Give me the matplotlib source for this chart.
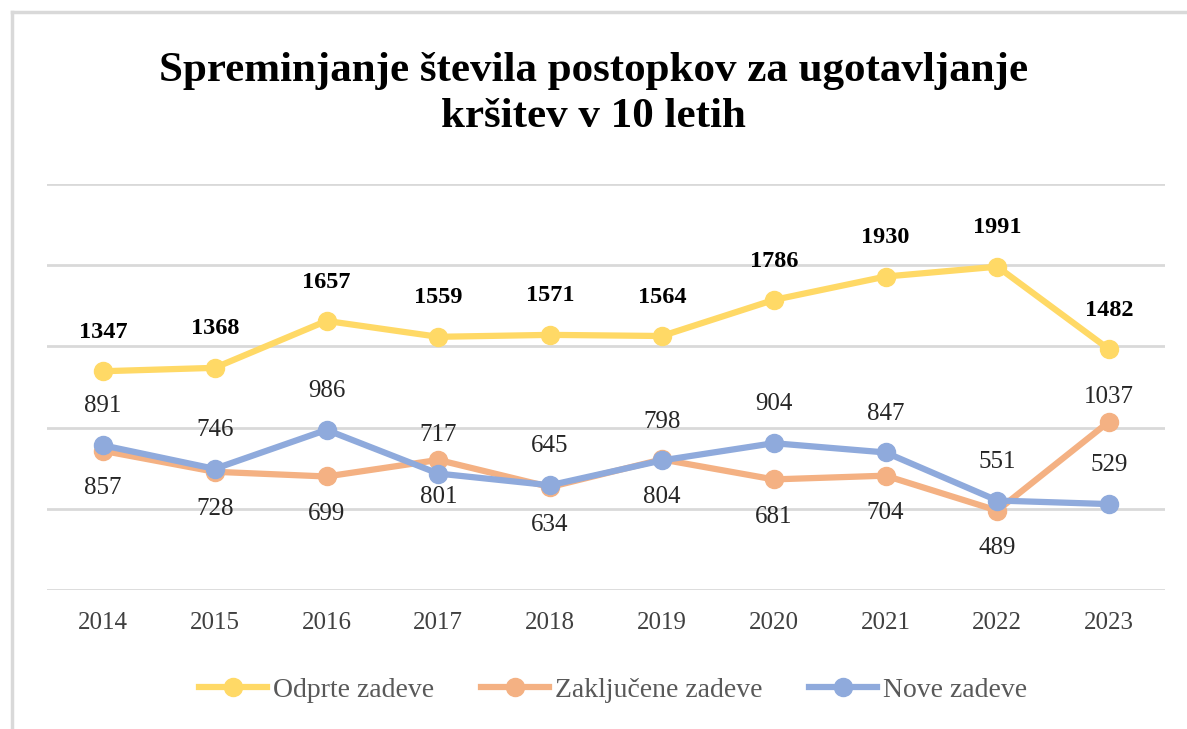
import matplotlib.pyplot as plt
from matplotlib.lines import Line2D

# Podatki
leta = ['2014', '2015', '2016', '2017', '2018', '2019', '2020', '2021', '2022', '2023']
odprte = [1347, 1368, 1657, 1559, 1571, 1564, 1786, 1930, 1991, 1482]
zakljucene = [857, 728, 699, 801, 634, 804, 681, 704, 489, 1037]
nove = [891, 746, 986, 717, 645, 798, 904, 847, 551, 529]

barve = {'odprte': '#FFD966', 'zakljucene': '#F4B183', 'nove': '#8FAADC'}
pisava = 'Liberation Serif'

fig = plt.figure(figsize=(11.87, 7.29), dpi=100)
ax = fig.add_axes([47 / 1187, 1 - 590 / 729, (1165 - 47) / 1187, (590 - 184) / 729])

x = list(range(len(leta)))
ax.plot(x, odprte, color=barve['odprte'], lw=4.5, marker='o', ms=13, solid_capstyle='round', zorder=3)
ax.plot(x, zakljucene, color=barve['zakljucene'], lw=4.5, marker='o', ms=13, solid_capstyle='round', zorder=3)
ax.plot(x, nove, color=barve['nove'], lw=4.5, marker='o', ms=13, solid_capstyle='round', zorder=4)

ax.set_xlim(-0.5, len(leta) - 0.5)
ax.set_ylim(0, 2500)
ax.set_yticks([0, 500, 1000, 1500, 2000, 2500])
ax.grid(axis='y', color='#D9D9D9', lw=2)
ax.set_axisbelow(True)
ax.tick_params(axis='y', left=False, labelleft=False)
ax.tick_params(axis='x', bottom=False, pad=12, labelsize=18, labelcolor='#404040')
ax.set_xticks(x)
ax.set_xticklabels(leta, fontfamily=pisava)
for s in ax.spines.values():
    s.set_visible(False)

# Oznake podatkov
for i, v in enumerate(odprte):
    ax.annotate(str(v), (i, v), xytext=(0, 28), textcoords='offset points', ha='center', va='center',
                fontsize=17.5, fontweight='bold', fontfamily=pisava, color='black')
for i, v in enumerate(nove):
    ax.annotate(str(v), (i, v), xytext=(0, 28), textcoords='offset points', ha='center', va='center',
                fontsize=18, fontfamily=pisava, color='#262626')
for i, v in enumerate(zakljucene):
    dy = 18 if i == len(zakljucene) - 1 else -27
    ax.annotate(str(v), (i, v), xytext=(0, dy), textcoords='offset points', ha='center', va='center',
                fontsize=18, fontfamily=pisava, color='#262626')

# Naslov
fig.text(0.5, 1 - 94 / 729, 'Spreminjanje števila postopkov za ugotavljanje\nkršitev v 10 letih',
         ha='center', va='center', fontsize=31, fontweight='bold', fontfamily=pisava, linespacing=1.28)

# Legenda
rocaji = [Line2D([], [], color=barve[k], lw=4.5, marker='o', ms=13) for k in ['odprte', 'zakljucene', 'nove']]
fig.legend(rocaji, ['Odprte zadeve', 'Zaključene zadeve', 'Nove zadeve'], loc='center',
           bbox_to_anchor=(613 / 1187, 1 - 690 / 729), ncol=3, frameon=False, handlelength=2.45,
           handletextpad=0.2, columnspacing=1.7, prop={'family': pisava, 'size': 20}, labelcolor='#595959')

# Okvir
fig.add_artist(Line2D([12 / 1187, 12 / 1187], [0, 1 - 12 / 729], transform=fig.transFigure, color='#D9D9D9', lw=2.5))
fig.add_artist(Line2D([12 / 1187, 1], [1 - 12 / 729, 1 - 12 / 729], transform=fig.transFigure, color='#D9D9D9', lw=2.5))

fig.savefig('out.png', dpi=100, facecolor='white')
